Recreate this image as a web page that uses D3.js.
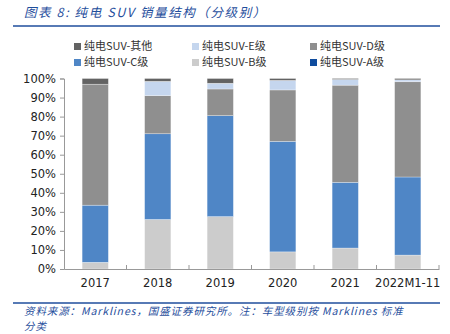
<!DOCTYPE html>
<html>
<head>
<meta charset="utf-8">
<script src="https://cdn.jsdelivr.net/npm/d3@7"></script>
<style>
  body { margin: 0; background: #fff; }
  svg { display: block; font-family: "Liberation Sans", Arial, sans-serif; }
  .cjk { font-family: "Noto Sans CJK SC", sans-serif; }
</style>
</head>
<body>
<svg id="chart" width="450" height="334"></svg>
<script>
var years = ['2017', '2018', '2019', '2020', '2021', '2022M1-11'];
var seriesNames = ['纯电SUV-A级', '纯电SUV-B级', '纯电SUV-C级', '纯电SUV-D级', '纯电SUV-E级', '纯电SUV-其他'];
var classA = [0, 0, 0, 0, 0, 0];
var classB = [3.5, 26, 27.5, 9, 11, 7.3];
var classC = [30, 45, 53, 58, 34.5, 41];
var classD = [63.5, 20, 14, 27, 51, 50];
var classE = [0, 7.5, 3, 5, 3, 1];
var classOther = [3, 1.5, 2.5, 1, 0.5, 0.7];
var colors = ['#0f4c9e', '#cccccc', '#4f86c6', '#8f8f8f', '#c5d6ee', '#636363'];
var yTicks = [0, 10, 20, 30, 40, 50, 60, 70, 80, 90, 100];

var svg = d3.select('#chart');
var margin = { left: 64, right: 11, top: 78.5, bottom: 65 };
var width = 450 - margin.left - margin.right;
var height = 334 - margin.top - margin.bottom;

// title
svg.append('text')
    .attr('class', 'cjk')
    .attr('x', 24).attr('y', 17)
    .attr('font-size', 12.5)
    .attr('font-style', 'italic')
    .attr('letter-spacing', 1.6)
    .attr('fill', '#1f4e9c')
    .text('图表 8:  纯电 SUV 销量结构（分级别）');

svg.append('line')
    .attr('x1', 13).attr('x2', 440)
    .attr('y1', 26).attr('y2', 26)
    .attr('stroke', '#1f4e9c').attr('stroke-width', 1.5);

// data rows
var series = [classA, classB, classC, classD, classE, classOther];
var rows = years.map(function (y, i) {
    var r = { year: y };
    seriesNames.forEach(function (n, k) { r[n] = series[k][i]; });
    return r;
});
var stacked = d3.stack().keys(seriesNames)(rows);

var x = d3.scaleBand().domain(years).range([0, width]).paddingInner(0.58).paddingOuter(0.29);
var xOuter = d3.scaleBand().domain(years).range([0, width]);
var y = d3.scaleLinear().domain([0, 100]).range([height, 0]);

var g = svg.append('g').attr('transform', 'translate(' + margin.left + ',' + margin.top + ')');

// bars
g.selectAll('.layer')
    .data(stacked)
    .enter().append('g')
        .attr('class', 'layer')
        .attr('fill', function (d, i) { return colors[i]; })
    .selectAll('rect')
    .data(function (d) { return d; })
    .enter().append('rect')
        .attr('x', function (d) { return x(d.data.year); })
        .attr('width', x.bandwidth())
        .attr('y', function (d) { return y(d[1]); })
        .attr('height', function (d) { return Math.max(0, y(d[0]) - y(d[1])); })
        .attr('stroke', '#fff')
        .attr('stroke-opacity', 0.5)
        .attr('stroke-width', 0.6);

// y axis
var yAxis = g.append('g')
    .call(d3.axisLeft(y).tickValues(yTicks).tickSize(4).tickPadding(4)
        .tickFormat(function (d) { return d + '%'; }));
yAxis.select('.domain').attr('stroke', '#999');
yAxis.selectAll('.tick line').attr('stroke', '#999');
yAxis.selectAll('text').attr('fill', '#222')
    .attr('font-family', '"DejaVu Sans", Verdana, sans-serif').attr('font-size', 11.5);

// x axis
var xAxis = g.append('g')
    .attr('transform', 'translate(0,' + height + ')')
    .call(d3.axisBottom(xOuter).tickSize(0).tickPadding(10));
xAxis.select('.domain').attr('stroke', '#999');
xAxis.selectAll('text').attr('fill', '#222')
    .attr('font-family', '"DejaVu Sans", Verdana, sans-serif').attr('font-size', 11.5);
xAxis.selectAll('.sep')
    .data(years)
    .enter().append('line')
        .attr('class', 'sep')
        .attr('x1', function (d) { return xOuter(d) + xOuter.bandwidth(); })
        .attr('x2', function (d) { return xOuter(d) + xOuter.bandwidth(); })
        .attr('y1', 0).attr('y2', -4)
        .attr('stroke', '#999');

// legend
var legendOrder = [5, 4, 3, 2, 1, 0];
var legend = svg.append('g');
legendOrder.forEach(function (k, i) {
    var col = i % 3, row = Math.floor(i / 3);
    var lx = 74 + col * 118, ly = 43 + row * 16;
    legend.append('rect')
        .attr('x', lx).attr('y', ly)
        .attr('width', 7).attr('height', 7)
        .attr('fill', colors[k]);
    legend.append('text')
        .attr('class', 'cjk')
        .attr('x', lx + 10).attr('y', ly + 7)
        .attr('font-size', 11)
        .attr('fill', '#333')
        .text(seriesNames[k]);
});

// source footer
svg.append('line')
    .attr('x1', 13).attr('x2', 440)
    .attr('y1', 303).attr('y2', 303)
    .attr('stroke', '#1f4e9c').attr('stroke-width', 1.5);
svg.append('text')
    .attr('class', 'cjk')
    .attr('x', 24).attr('y', 315)
    .attr('font-size', 10.5)
    .attr('font-style', 'italic')
    .attr('letter-spacing', 0.9)
    .attr('fill', '#1f4e9c')
    .text('资料来源：Marklines，国盛证券研究所。注：车型级别按 Marklines 标准');
svg.append('text')
    .attr('class', 'cjk')
    .attr('x', 24).attr('y', 330)
    .attr('font-size', 10.5)
    .attr('font-style', 'italic')
    .attr('letter-spacing', 0.9)
    .attr('fill', '#1f4e9c')
    .text('分类');
</script>
</body>
</html>
